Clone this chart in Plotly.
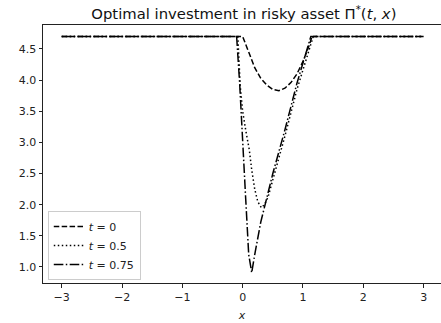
import plotly.graph_objects as go

# Optimal investment in the risky asset, Pi*(t, x), at three times
x_t0 = [-3.0, 0.0, 0.1, 0.2, 0.3, 0.4, 0.5, 0.6, 0.7, 0.8, 0.9, 1.0, 1.1, 1.15, 3.0]
y_t0 = [4.7, 4.7, 4.45, 4.2, 4.03, 3.92, 3.85, 3.83, 3.87, 3.96, 4.1, 4.3, 4.55, 4.7, 4.7]

x_t05 = [-3.0, -0.08, -0.04, 0.0, 0.05, 0.11, 0.15, 0.2, 0.25, 0.31, 0.36, 0.42,
         0.5, 0.7, 0.9, 1.1, 1.17, 3.0]
y_t05 = [4.7, 4.7, 3.9, 3.5, 3.2, 2.88, 2.56, 2.25, 2.05, 1.95, 2.0, 2.12,
         2.4, 3.1, 3.85, 4.5, 4.7, 4.7]

x_t075 = [-3.0, -0.1, -0.05, 0.0, 0.05, 0.1, 0.15, 0.2, 0.3, 0.5, 0.7, 0.9, 1.1, 1.13, 3.0]
y_t075 = [4.7, 4.7, 3.95, 2.95, 2.1, 1.2, 0.91, 1.2, 1.72, 2.5, 3.2, 3.95, 4.62, 4.7, 4.7]

x_ticks = [-3, -2, -1, 0, 1, 2, 3]
y_ticks = [1.0, 1.5, 2.0, 2.5, 3.0, 3.5, 4.0, 4.5]

series = [
    ("<i>t</i> = 0", x_t0, y_t0, "5.5px,2.4px"),
    ("<i>t</i> = 0.5", x_t05, y_t05, "1.5px,2.5px"),
    ("<i>t</i> = 0.75", x_t075, y_t075, "9.6px,2.4px,1.5px,2.4px"),
]

fig = go.Figure()
for name, xs, ys, dash in series:
    fig.add_trace(go.Scatter(
        x=xs, y=ys, mode="lines", name=name,
        line=dict(color="black", width=1.5, dash=dash),
    ))

font = "DejaVu Sans, Liberation Sans, sans-serif"
fig.update_layout(
    width=441, height=323,
    margin=dict(l=43, r=0, t=25, b=40),
    paper_bgcolor="white", plot_bgcolor="white",
    font=dict(family=font, size=11, color="#222222"),
    title=dict(
        text="Optimal investment in risky asset Π<sup>*</sup>(<i>t</i>, <i>x</i>)",
        x=0.553, xanchor="center", y=0.958, yanchor="middle",
        font=dict(size=14.8, color="#111111"),
    ),
    showlegend=True,
    legend=dict(
        x=0.012, y=0.012, xanchor="left", yanchor="bottom",
        bgcolor="rgba(255,255,255,0.8)", bordercolor="#cccccc", borderwidth=1,
        font=dict(size=11, color="#222222"),
        tracegroupgap=0, itemwidth=30,
    ),
)
fig.update_xaxes(
    range=[-3.31, 3.288], tickvals=x_ticks,
    showline=True, linecolor="#222222", linewidth=1, mirror=True,
    ticks="outside", ticklen=3.5, tickcolor="#222222",
    showgrid=False, zeroline=False,
    title=dict(text="<i>x</i>", standoff=8, font=dict(size=11)),
)
fig.update_yaxes(
    range=[0.743, 4.885], tickvals=y_ticks, tickformat=".1f",
    showline=True, linecolor="#222222", linewidth=1, mirror=False,
    ticks="outside", ticklen=3.5, tickcolor="#222222",
    showgrid=False, zeroline=False,
)

fig.write_html("out.html")
